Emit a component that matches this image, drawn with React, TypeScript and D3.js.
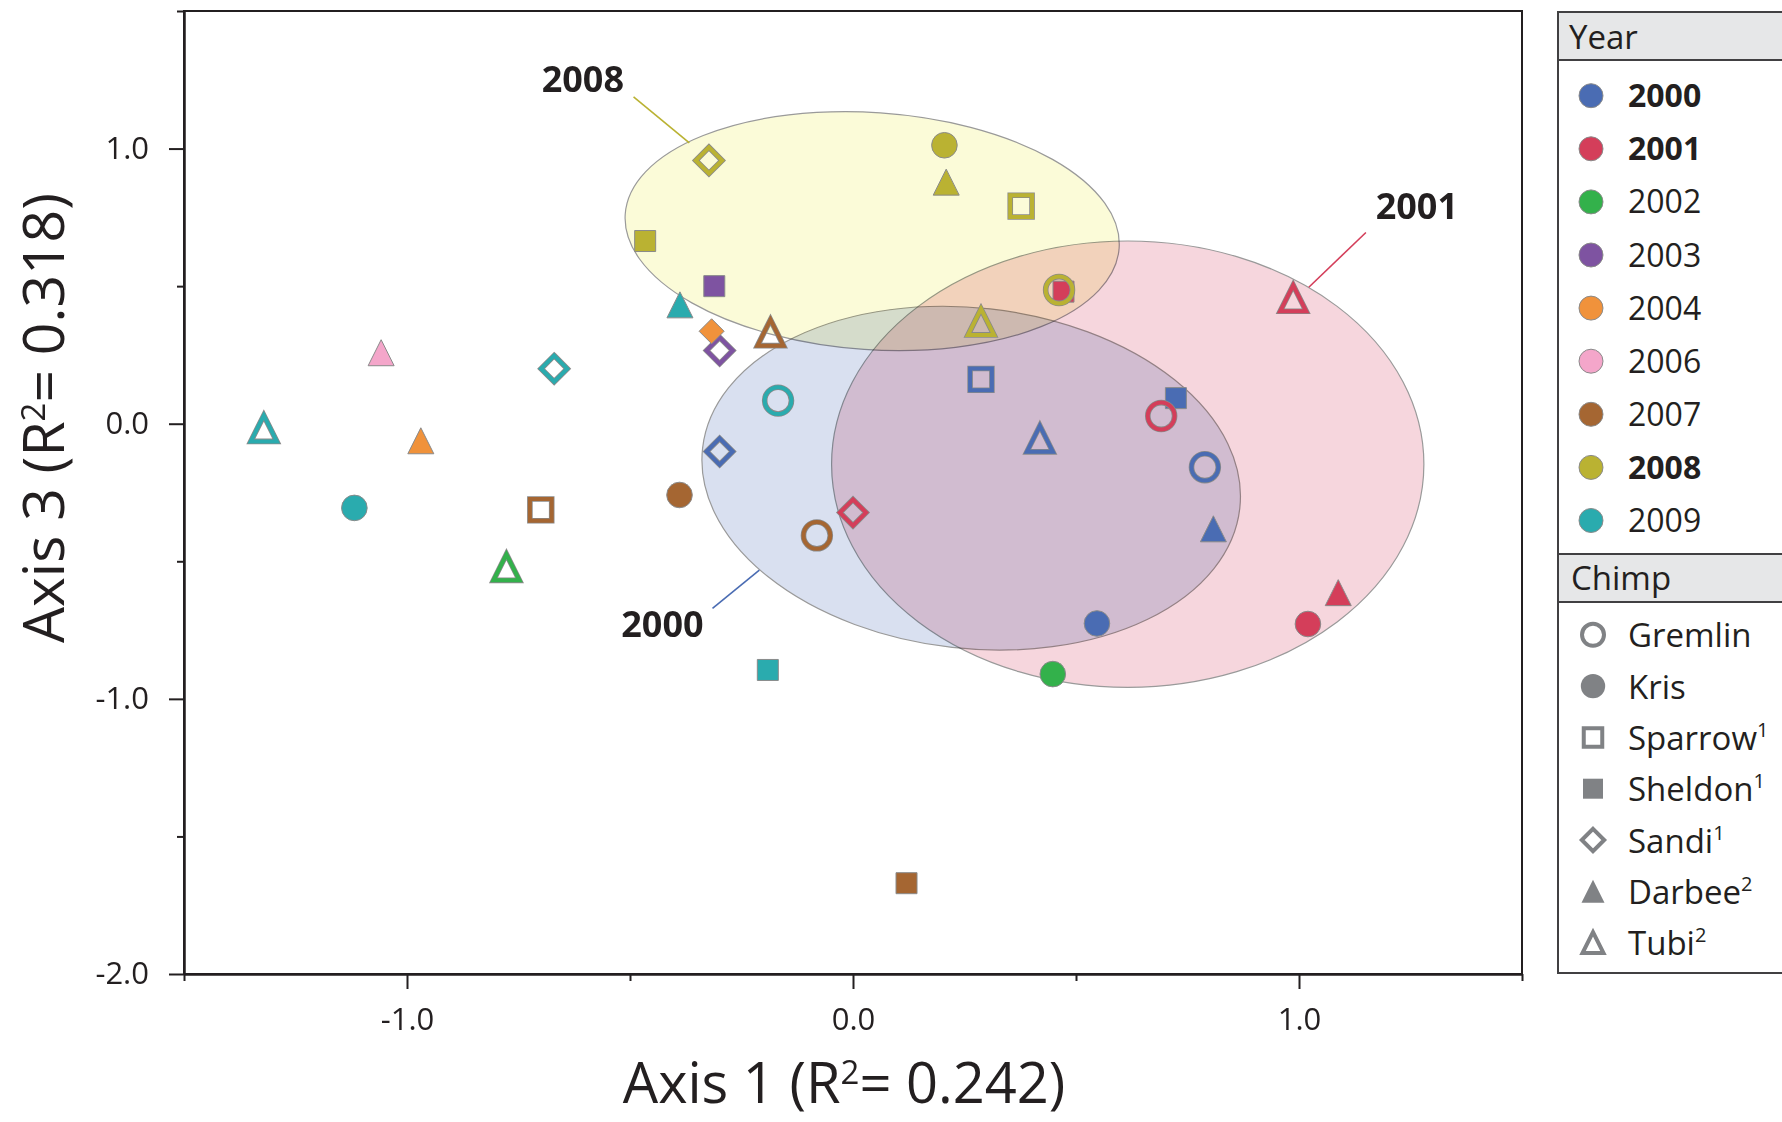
import { useEffect, useRef } from 'react';
import * as d3 from 'd3';

// years and their colours
const years = ['2000', '2001', '2002', '2003', '2004', '2006', '2007', '2008', '2009'];
const boldYears = ['2000', '2001', '2008'];
const yearColors = ['#4a6cb3', '#d43e5a', '#33b14b', '#7e53a1', '#f0923b', '#f4a6ca', '#a56632', '#bab232', '#2aabae'];

// chimps and footnote marks
const chimps = ['Gremlin', 'Kris', 'Sparrow', 'Sheldon', 'Sandi', 'Darbee', 'Tubi'];
const chimpNotes = ['', '', '1', '1', '1', '2', '2'];

// one sample per entry
const pointYear = [
  '2000', '2000', '2000', '2000', '2000', '2000', '2000',
  '2001', '2001', '2001', '2001', '2001', '2001',
  '2002', '2002',
  '2003', '2003',
  '2004', '2004',
  '2006',
  '2007', '2007', '2007', '2007', '2007',
  '2008', '2008', '2008', '2008', '2008', '2008', '2008',
  '2009', '2009', '2009', '2009', '2009', '2009',
];
const pointChimp = [
  'Gremlin', 'Kris', 'Sparrow', 'Sheldon', 'Sandi', 'Darbee', 'Tubi',
  'Gremlin', 'Kris', 'Sheldon', 'Sandi', 'Darbee', 'Tubi',
  'Kris', 'Tubi',
  'Sheldon', 'Sandi',
  'Sandi', 'Darbee',
  'Darbee',
  'Gremlin', 'Kris', 'Sparrow', 'Sheldon', 'Tubi',
  'Gremlin', 'Kris', 'Sparrow', 'Sheldon', 'Sandi', 'Darbee', 'Tubi',
  'Gremlin', 'Kris', 'Sheldon', 'Sandi', 'Darbee', 'Tubi',
];
const axis1 = [
  0.789, 0.547, 0.287, 0.724, -0.299, 0.808, 0.419,
  0.691, 1.02, 0.472, 0.0, 1.088, 0.987,
  0.448, -0.777,
  -0.311, -0.299,
  -0.317, -0.969,
  -1.058,
  -0.081, -0.389, -0.7, 0.12, -0.185,
  0.462, 0.205, 0.377, -0.466, -0.323, 0.209, 0.287,
  -0.168, -1.118, -0.191, -0.67, -0.388, -1.321,
];
const axis3 = [
  -0.158, -0.726, 0.161, 0.093, -0.101, -0.382, -0.055,
  0.028, -0.728, 0.48, -0.323, -0.614, 0.456,
  -0.91, -0.522,
  0.5, 0.266,
  0.336, -0.062,
  0.258,
  -0.406, -0.259, -0.313, -1.67, 0.331,
  0.486, 1.012, 0.791, 0.664, 0.957, 0.878, 0.37,
  0.084, -0.306, -0.895, 0.2, 0.432, -0.017,
];
// the 2004 Sandi sample is drawn as a solid diamond
const solidSandiYears = ['2004'];

// year ellipses (centre, radii in axis units, tilt in degrees)
const ellipseYears = ['2000', '2001', '2008'];
const ellipseCx = [0.265, 0.616, 0.043];
const ellipseCy = [-0.198, -0.147, 0.7];
const ellipseRx = [0.606, 0.664, 0.555];
const ellipseRy = [0.619, 0.811, 0.431];
const ellipseTilt = [6.4, 0, 3.9];
const ellipseFills = ['#d9e0f0', '#f6d6dd', '#fbfbd8'];

// ellipse labels, in axis units
const labelYears = ['2008', '2001', '2000'];
const labelX = [-0.698, 1.172, -0.335];
const labelY = [1.204, 0.743, -0.774];
const labelAnchor = ['start', 'start', 'end'];
const leaderFrom = [[-0.492, 1.188], [1.15, 0.695], [-0.315, -0.671]];
const leaderTo = [[-0.367, 1.021], [1.022, 0.496], [-0.21, -0.532]];

const xTicks = [-1, 0, 1];
const xMinor = [-1.5, -0.5, 0.5, 1.5];
const yTicks = [1, 0, -1, -2];
const yMinor = [1.5, 0.5, -0.5, -1.5];

const W = 1782;
const H = 1122;
const FONT = "'Open Sans', sans-serif";
const INK = '#231f20';
const EDGE = '#8a8a8a';
const LEGEND_GRAY = '#808285';

const x = d3.scaleLinear().domain([-1.5, 1.5]).range([184, 1522]);
const y = d3.scaleLinear().domain([-2, 1.5]).range([974, 11]);

const shapeOf = {
  Gremlin: ['circle', false],
  Kris: ['circle', true],
  Sparrow: ['square', false],
  Sheldon: ['square', true],
  Sandi: ['diamond', false],
  Darbee: ['triangle', true],
  Tubi: ['triangle', false],
};

function shapePath(shape, s) {
  const p = d3.path();
  if (shape === 'circle') {
    p.moveTo(s, 0);
    p.arc(0, 0, s, 0, 2 * Math.PI);
    p.closePath();
  } else if (shape === 'square') {
    p.rect(-s / 2, -s / 2, s, s);
  } else if (shape === 'diamond') {
    p.moveTo(0, -s);
    p.lineTo(s, 0);
    p.lineTo(0, s);
    p.lineTo(-s, 0);
    p.closePath();
  } else {
    p.moveTo(0, -s / 2);
    p.lineTo(s / 2, s / 2);
    p.lineTo(-s / 2, s / 2);
    p.closePath();
  }
  return p.toString();
}

const solidSize = { circle: 12.8, square: 21, diamond: 12.5, triangle: 26 };
const openSize = { circle: 13.4, square: 21.8, diamond: 13.1, triangle: 26 };

function Marker({ shape, filled, color, cx, cy }) {
  if (filled) {
    return (
      <path
        transform={`translate(${cx},${cy})`}
        d={shapePath(shape, solidSize[shape])}
        fill={color}
        stroke={EDGE}
        strokeWidth={1}
      />
    );
  }
  const d = shapePath(shape, openSize[shape]);
  return (
    <g transform={`translate(${cx},${cy})`} fill="none" strokeLinejoin="miter">
      <path d={d} stroke={EDGE} strokeWidth={5.6} />
      <path d={d} stroke={color} strokeWidth={4} />
    </g>
  );
}

function LegendSymbol({ shape, filled, cx, cy }) {
  const sizes = filled
    ? { circle: 12.2, square: 20, diamond: 12, triangle: 23 }
    : { circle: 11, square: 18.5, diamond: 11.2, triangle: 21 };
  const d = shapePath(shape, sizes[shape]);
  return filled ? (
    <path transform={`translate(${cx},${cy})`} d={d} fill={LEGEND_GRAY} />
  ) : (
    <path transform={`translate(${cx},${cy})`} d={d} fill="none" stroke={LEGEND_GRAY} strokeWidth={4} />
  );
}

export default function App() {
  const xAxisRef = useRef(null);
  const xMinorRef = useRef(null);
  const yAxisRef = useRef(null);
  const yMinorRef = useRef(null);

  useEffect(() => {
    const fmt = (d) => d.toFixed(1);

    select(xAxisRef.current).call(
      d3.axisBottom(x).tickValues(xTicks).tickSize(15).tickSizeOuter(0).tickPadding(19).tickFormat(fmt)
    );
    select(xMinorRef.current).call(
      d3.axisBottom(x).tickValues(xMinor).tickSize(7).tickSizeOuter(0).tickFormat(() => '')
    );
    select(yAxisRef.current).call(
      d3.axisLeft(y).tickValues(yTicks).tickSize(15).tickSizeOuter(0).tickPadding(20).tickFormat(fmt)
    );
    select(yMinorRef.current).call(
      d3.axisLeft(y).tickValues(yMinor).tickSize(7).tickSizeOuter(0).tickFormat(() => '')
    );

    [xAxisRef, xMinorRef, yAxisRef, yMinorRef].forEach((r) => {
      const g = select(r.current);
      g.attr('font-size', 31).attr('font-family', FONT).attr('color', INK);
      g.selectAll('line, path').attr('stroke-width', 2);
      g.selectAll('text').attr('fill', INK);
    });
  }, []);

  const ux = x(1) - x(0);
  const uy = y(0) - y(1);

  return (
    <svg
      width={W}
      height={H}
      style={{ position: 'absolute', left: 0, top: 0, background: '#fff' }}
      fontFamily={FONT}
    >
      <rect x={0} y={0} width={W} height={H} fill="#fff" />

      {/* year ellipses */}
      <g style={{ isolation: 'isolate' }}>
        {ellipseYears.map((yr, i) => (
          <ellipse
            key={yr}
            cx={x(ellipseCx[i])}
            cy={y(ellipseCy[i])}
            rx={ellipseRx[i] * ux}
            ry={ellipseRy[i] * uy}
            transform={`rotate(${ellipseTilt[i]},${x(ellipseCx[i])},${y(ellipseCy[i])})`}
            fill={ellipseFills[i]}
            stroke="#9a9a9a"
            strokeWidth={1.2}
            style={{ mixBlendMode: 'multiply' }}
          />
        ))}
      </g>

      {/* leader lines and labels */}
      {labelYears.map((yr, i) => (
        <g key={yr}>
          <line
            x1={x(leaderFrom[i][0])}
            y1={y(leaderFrom[i][1])}
            x2={x(leaderTo[i][0])}
            y2={y(leaderTo[i][1])}
            stroke={yearColors[years.indexOf(yr)]}
            strokeWidth={1.6}
          />
          <text
            x={x(labelX[i])}
            y={y(labelY[i])}
            textAnchor={labelAnchor[i]}
            fontSize={36}
            fontWeight={700}
            fill={INK}
          >
            {yr}
          </text>
        </g>
      ))}

      {/* samples */}
      {pointYear.map((yr, i) => {
        const [shape, filledBase] = shapeOf[pointChimp[i]];
        const filled = filledBase || (pointChimp[i] === 'Sandi' && solidSandiYears.includes(yr));
        return (
          <Marker
            key={i}
            shape={shape}
            filled={filled}
            color={yearColors[years.indexOf(yr)]}
            cx={x(axis1[i])}
            cy={y(axis3[i])}
          />
        );
      })}

      {/* frame and axes */}
      <rect x={x(-1.5)} y={y(1.5)} width={x(1.5) - x(-1.5)} height={y(-2) - y(1.5)} fill="none" stroke={INK} strokeWidth={2} />
      <g ref={xAxisRef} transform={`translate(0,${y(-2)})`} />
      <g ref={xMinorRef} transform={`translate(0,${y(-2)})`} />
      <g ref={yAxisRef} transform={`translate(${x(-1.5)},0)`} />
      <g ref={yMinorRef} transform={`translate(${x(-1.5)},0)`} />

      <text x={844} y={1103} textAnchor="middle" fontSize={56} fill={INK}>
        Axis 1 (R<tspan dy={-19} fontSize={33}>2</tspan>
        <tspan dy={19}>= 0.242)</tspan>
      </text>
      <text transform="translate(64,418) rotate(-90)" textAnchor="middle" fontSize={57} fill={INK}>
        Axis 3 (R<tspan dy={-19} fontSize={33}>2</tspan>
        <tspan dy={19}>= 0.318)</tspan>
      </text>

      {/* legend */}
      <g>
        <rect x={1558} y={12} width={300} height={961} fill="#fff" stroke="#414042" strokeWidth={2} />
        <rect x={1558} y={12} width={300} height={48} fill="#e6e7e8" stroke="#414042" strokeWidth={2} />
        <text x={1569} y={49} fontSize={33} fill={INK}>Year</text>
        {years.map((yr, i) => {
          const cy = 95.7 + i * 53.1;
          return (
            <g key={yr}>
              <circle cx={1591} cy={cy} r={12} fill={yearColors[i]} stroke={EDGE} strokeWidth={1} />
              <text
                x={1628}
                y={cy + 11.5}
                fontSize={32}
                fontWeight={boldYears.includes(yr) ? 700 : 400}
                fill={INK}
              >
                {yr}
              </text>
            </g>
          );
        })}
        <rect x={1558} y={554} width={300} height={48} fill="#e6e7e8" stroke="#414042" strokeWidth={2} />
        <text x={1571} y={590} fontSize={33} fill={INK}>Chimp</text>
        {chimps.map((c, i) => {
          const cy = 634.8 + i * 51.3;
          const [shape, filled] = shapeOf[c];
          return (
            <g key={c}>
              <LegendSymbol shape={shape} filled={filled} cx={1593} cy={cy} />
              <text x={1628} y={cy + 12.5} fontSize={33} fill={INK}>
                {c}
                {chimpNotes[i] && (
                  <tspan dy={-13} fontSize={20}>
                    {chimpNotes[i]}
                  </tspan>
                )}
              </text>
            </g>
          );
        })}
      </g>
    </svg>
  );
}

function select(node) {
  return d3.select(node);
}
